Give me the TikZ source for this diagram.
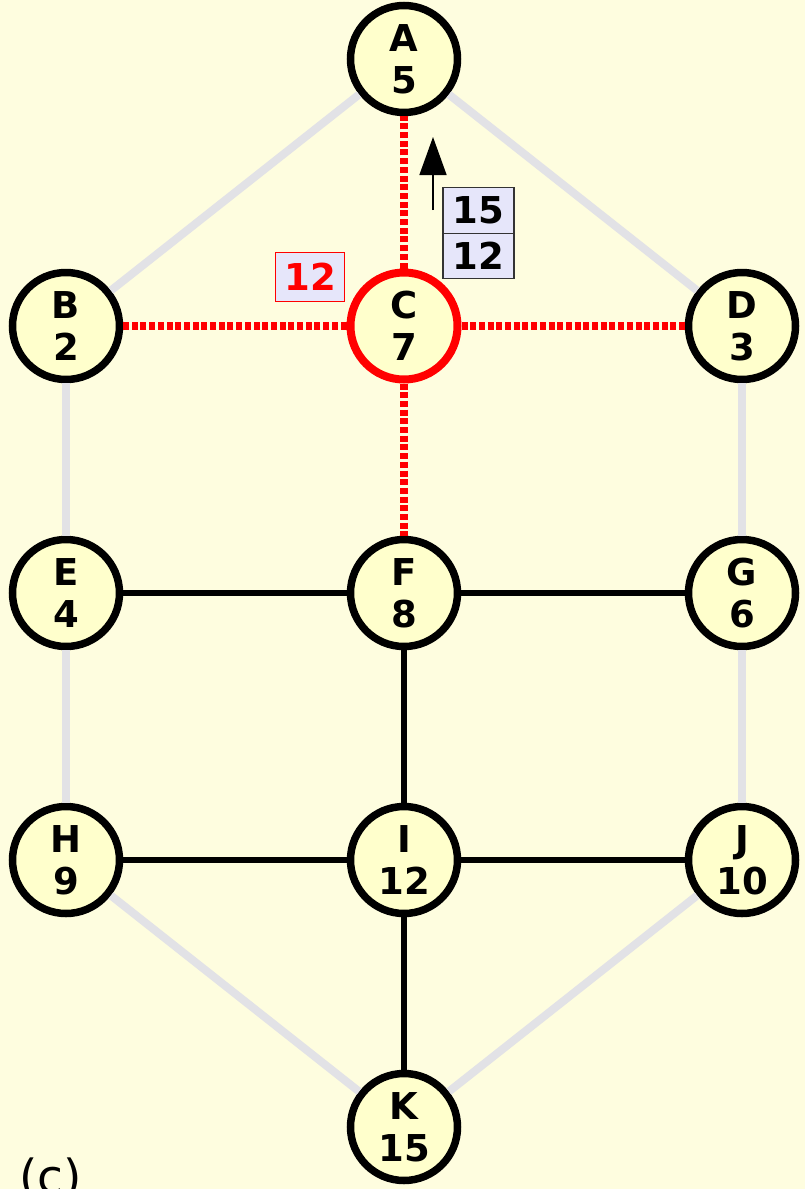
\documentclass[tikz,border=0pt]{standalone}
\usepackage{fontspec}
\setmainfont{DejaVu Sans}
\usetikzlibrary{arrows.meta}
\definecolor{bg}{HTML}{FEFDDF}
\definecolor{nodefill}{HTML}{FFFFCC}
\definecolor{lav}{HTML}{E6E6FA}
\definecolor{graye}{HTML}{E2E2E6}
\definecolor{boxline}{HTML}{333333}
\tikzset{
  vert/.style={circle,draw=black,line width=7.5pt,fill=nodefill,minimum size=107pt,inner sep=0pt,align=center,
    font=\fontsize{37}{42}\selectfont\bfseries},
  active/.style={vert,draw=red,line width=8pt},
  ghost/.style={draw=graye,line width=8pt},
  tree/.style={draw=black,line width=6.5pt},
  probe/.style={draw=red,line width=8pt,dash pattern=on 6pt off 2.7pt},
  keybox/.style={draw=red,line width=1pt,fill=lav,text=red,minimum width=69pt,minimum height=49pt,inner sep=0pt,
    font=\fontsize{37}{42}\selectfont\bfseries},
  cell/.style={draw=boxline,line width=1.2pt,fill=lav,minimum width=71pt,minimum height=45.5pt,inner sep=0pt,
    font=\fontsize{37}{42}\selectfont\bfseries},
}
\begin{document}
\begin{tikzpicture}[x=1pt,y=-1pt]
\fill[bg] (0,0) rectangle (805,1189);
\useasboundingbox (0,0) rectangle (805,1189);
\node[vert] (A) at (404,59) {A\\5};
\node[vert] (B) at (66,326) {B\\2};
\node[active] (C) at (404,326) {C\\7};
\node[vert] (D) at (742,326) {D\\3};
\node[vert] (E) at (66,593) {E\\4};
\node[vert] (F) at (404,593) {F\\8};
\node[vert] (G) at (742,593) {G\\6};
\node[vert] (H) at (66,860) {H\\9};
\node[vert] (I) at (404,860) {I\\12};
\node[vert] (J) at (742,860) {J\\10};
\node[vert] (K) at (404,1127) {K\\15};
% gray edges
\draw[ghost] (A) -- (B);
\draw[ghost] (A) -- (D);
\draw[ghost] (B) -- (E);
\draw[ghost] (D) -- (G);
\draw[ghost] (E) -- (H);
\draw[ghost] (G) -- (J);
\draw[ghost] (H) -- (K);
\draw[ghost] (J) -- (K);
% tree edges
\draw[tree] (E) -- (F);
\draw[tree] (F) -- (G);
\draw[tree] (F) -- (I);
\draw[tree] (H) -- (I);
\draw[tree] (I) -- (J);
\draw[tree] (I) -- (K);
% probed edges
\draw[probe] (C) -- (A);
\draw[probe] (C) -- (B);
\draw[probe] (C) -- (D);
\draw[probe] (C) -- (F);
% labels
\node[keybox] (key) at (310,277) {12};
\node[cell] (top) at (478.5,210.5) {15};
\node[cell] (bot) at (478.5,256) {12};
\coordinate (arrS) at (433,210);
\coordinate (arrE) at (433,137);
\draw[line width=1.5pt,-{Triangle[length=38pt,width=27pt]}] (arrS) -- (arrE);
\node[anchor=base west,inner sep=0pt,font=\fontsize{47}{52}\selectfont] (cap) at (19,1193) {(c)};
\end{tikzpicture}
\end{document}
